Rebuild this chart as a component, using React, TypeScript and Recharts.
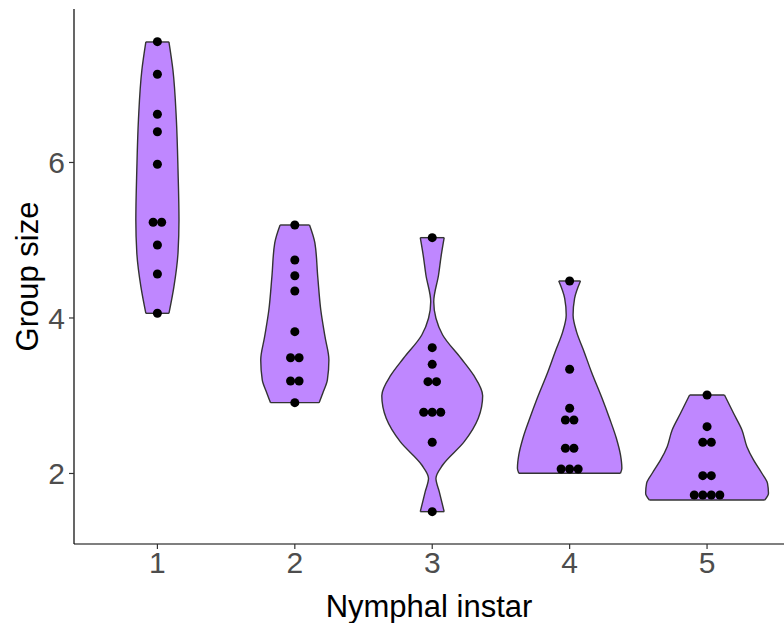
import { ComposedChart, Area, Line, Scatter, XAxis, YAxis, Label } from 'recharts'

// group size, one list per nymphal instar
const sizes1 = [7.554, 7.134, 6.62, 6.396, 5.977, 5.231, 5.231, 4.939, 4.566, 4.06]
const sizes2 = [5.196, 4.746, 4.544, 4.347, 3.824, 3.489, 3.489, 3.19, 3.19, 2.911]
const sizes3 = [5.033, 3.618, 3.404, 3.181, 3.181, 2.787, 2.787, 2.787, 2.401, 1.509]
const sizes4 = [4.476, 3.34, 2.839, 2.688, 2.688, 2.324, 2.324, 2.058, 2.058, 2.058]
const sizes5 = [3.01, 2.602, 2.401, 2.401, 1.972, 1.972, 1.723, 1.723, 1.723, 1.723]

// violin outline: [group size, half width in instar units]
const outline1: [number, number][] = [
  [7.55, 0.084], [7.19, 0.113], [6.55, 0.138], [5.9, 0.15], [5.26, 0.157],
  [4.84, 0.15], [4.4, 0.12], [4.06, 0.084],
]
const outline2: [number, number][] = [
  [5.196, 0.107], [4.965, 0.146], [4.527, 0.167], [4.103, 0.189], [3.756, 0.22],
  [3.46, 0.248], [3.203, 0.237], [3.036, 0.204], [2.911, 0.177],
]
const outline3: [number, number][] = [
  [5.033, 0.087], [4.8, 0.065], [4.553, 0.046], [4.21, 0.011], [3.996, 0.027],
  [3.781, 0.076], [3.482, 0.209], [3.267, 0.3], [3.0, 0.367],
  [2.71, 0.335], [2.409, 0.233], [2.109, 0.076], [1.938, 0.027], [1.766, 0.051],
  [1.509, 0.087],
]
const outline4: [number, number][] = [
  [4.476, 0.079], [4.253, 0.036], [4.039, 0.025], [3.824, 0.05], [3.567, 0.105],
  [3.309, 0.158], [2.967, 0.236], [2.71, 0.29], [2.453, 0.34], [2.238, 0.37],
  [2.067, 0.38], [2.003, 0.37],
]
const outline5: [number, number][] = [
  [3.01, 0.127], [2.774, 0.193], [2.56, 0.254], [2.345, 0.29], [2.174, 0.338],
  [2.003, 0.399], [1.874, 0.44], [1.745, 0.447], [1.659, 0.42],
]

const INSTARS = [1, 2, 3, 4, 5]
const SIZES = [sizes1, sizes2, sizes3, sizes4, sizes5]
const OUTLINES = [outline1, outline2, outline3, outline4, outline5]
const X_TICKS = [1, 2, 3, 4, 5]
const Y_TICKS = [2, 4, 6]

const FONT = '"Liberation Sans", Arial, Helvetica, sans-serif'
const VIOLIN_FILL = '#BF87FF'
const OUTLINE = '#333333'
const DOT_STEP = 0.062 // dotplot stacking step, in instar units

function violinData(instar: number, outline: [number, number][]) {
  return outline.map(([y, hw]) => ({ y, range: [instar - hw, instar + hw] }))
}

// flat trimmed ends of the violin
function capData(instar: number, outline: [number, number][]) {
  const ends = [outline[0], outline[outline.length - 1]]
  return ends.map(([y, hw]) => [
    { y, x: instar - hw },
    { y, x: instar + hw },
  ])
}

// centred stacks for repeated values, like geom_dotplot(stackdir = 'center')
function dotData(instar: number, values: number[]) {
  const counts = new Map<number, number>()
  values.forEach((v) => counts.set(v, (counts.get(v) ?? 0) + 1))
  const out: { x: number; y: number }[] = []
  counts.forEach((n, v) => {
    for (let i = 0; i < n; i++) {
      out.push({ x: instar + (i - (n - 1) / 2) * DOT_STEP, y: v })
    }
  })
  return out
}

function YTitle(props: any) {
  const vb = props.viewBox
  const x = vb.x + 27
  const y = vb.y + vb.height / 2
  return (
    <text
      x={x}
      y={y}
      transform={`rotate(-90, ${x}, ${y})`}
      textAnchor="middle"
      dominantBaseline="central"
      fontSize={31}
      fontFamily={FONT}
      fill="#000"
    >
      Group size
    </text>
  )
}

export default function App() {
  return (
    <div style={{ position: 'absolute', left: 0, top: 0, background: '#fff' }}>
      <ComposedChart
        width={784}
        height={623}
        layout="vertical"
        margin={{ top: 9, right: 0, bottom: 0, left: 0 }}
      >
        <XAxis
          type="number"
          domain={[0.393, 5.56]}
          ticks={X_TICKS}
          allowDataOverflow
          height={79}
          tickSize={5}
          tickMargin={3}
          axisLine={{ stroke: '#000', strokeWidth: 1.2 }}
          tickLine={{ stroke: OUTLINE, strokeWidth: 1.2 }}
          tick={{ fill: '#4D4D4D', fontSize: 30, fontFamily: FONT }}
        >
          <Label
            value="Nymphal instar"
            position="insideBottom"
            offset={6}
            style={{ fontSize: 31, fill: '#000', fontFamily: FONT }}
          />
        </XAxis>
        <YAxis
          type="number"
          dataKey="y"
          domain={[1.093, 7.974]}
          ticks={Y_TICKS}
          allowDataOverflow
          reversed
          width={74}
          tickSize={5}
          tickMargin={4}
          axisLine={{ stroke: '#000', strokeWidth: 1.2 }}
          tickLine={{ stroke: OUTLINE, strokeWidth: 1.2 }}
          tick={{ fill: '#4D4D4D', fontSize: 30, fontFamily: FONT }}
        >
          <Label content={YTitle} />
        </YAxis>
        {INSTARS.map((g, i) => (
          <Area
            key={`v${g}`}
            data={violinData(g, OUTLINES[i])}
            dataKey="range"
            type="monotone"
            fill={VIOLIN_FILL}
            fillOpacity={1}
            stroke={OUTLINE}
            strokeWidth={1.4}
            dot={false}
            activeDot={false}
            isAnimationActive={false}
          />
        ))}
        {INSTARS.flatMap((g, i) =>
          capData(g, OUTLINES[i]).map((d, j) => (
            <Line
              key={`c${g}-${j}`}
              data={d}
              dataKey="x"
              type="linear"
              stroke={OUTLINE}
              strokeWidth={1.4}
              dot={false}
              activeDot={false}
              isAnimationActive={false}
            />
          ))
        )}
        {INSTARS.map((g, i) => (
          <Scatter
            key={`d${g}`}
            data={dotData(g, SIZES[i])}
            dataKey="x"
            fill="#000"
            isAnimationActive={false}
          />
        ))}
      </ComposedChart>
    </div>
  )
}
